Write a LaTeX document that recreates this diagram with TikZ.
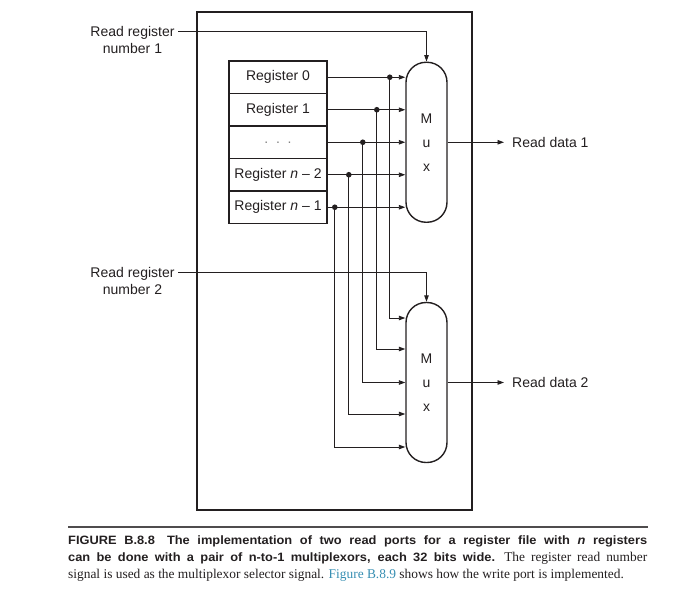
\documentclass[tikz,border=0pt]{standalone}
\usepackage{fontspec}
\setmainfont{Liberation Serif}
\setsansfont{Liberation Sans}
\newfontfamily\capbold[FakeStretch=1.06]{Liberation Sans}
\newfontfamily\capserif[FakeStretch=1.0001]{Liberation Serif}
\usetikzlibrary{arrows.meta}
\definecolor{ink}{RGB}{35,31,32}
\definecolor{linkblue}{RGB}{54,142,178}
\begin{document}
\begin{tikzpicture}[x=1pt,y=-1pt,
  wire/.style={draw=ink,line width=0.9pt},
  arr/.style={-{Triangle[length=6.5pt,width=4.5pt]}},
  reg/.style={draw=ink,line width=1.6pt,minimum width=98pt,minimum height=32.5pt,inner sep=0pt,font=\sffamily\fontsize{14}{16}\selectfont,text=ink},
  mux/.style={draw=ink,line width=1.4pt,rounded corners=20pt,minimum width=41pt,minimum height=160pt,inner sep=0pt,align=center,font=\sffamily\fontsize{14}{24}\selectfont,text=ink},
  lbl/.style={font=\sffamily\fontsize{14}{17}\selectfont,text=ink,inner sep=0pt},
  captxt/.style={inner sep=0pt,anchor=base west,text=ink}]
\path[use as bounding box] (0,0) rectangle (681,590);
% register file box
\draw[ink,line width=2.6pt] (197,12) rectangle (472,510);
% registers
\node[reg] (r0) at (278,77.25) {Register 0};
\node[reg] (r1) at (278,109.75) {Register 1};
\node[reg] (r2) at (278,142.25) {\textcolor{gray}{.\ \ .\ \ .}};
\node[reg] (r3) at (278,174.75) {Register \textit{n} – 2};
\node[reg] (r4) at (278,207.25) {Register \textit{n} – 1};
% muxes
\node[mux] (m1) at (426.5,142.25) {M\\u\\x};
\node[mux] (m2) at (426.5,382.5) {M\\u\\x};
% junctions
\path (r0.east) ++(62,0) coordinate (j0);
\path (r1.east) ++(49,0) coordinate (j1);
\path (r2.east) ++(35,0) coordinate (j2);
\path (r3.east) ++(21,0) coordinate (j3);
\path (r4.east) ++(7,0) coordinate (j4);
\coordinate (b0) at ([yshift=64.5pt]m2.west);
\coordinate (b1) at ([yshift=33.5pt]m2.west);
\coordinate (b2) at (m2.west);
\coordinate (b3) at ([yshift=-31.5pt]m2.west);
\coordinate (b4) at ([yshift=-64.5pt]m2.west);
\foreach \i in {0,...,4}{
  \draw[wire,arr] (r\i.east) -- (r\i.east -| m1.west);
  \draw[wire,arr] (j\i) |- (b\i);
  \fill[ink] (j\i) circle (2.8);
}
% read register numbers
\node[lbl,align=center] (rr1) at (132.5,39.5) {Read register\\number 1};
\node[lbl,align=center] (rr2) at (132.5,280.5) {Read register\\number 2};
\coordinate (s1) at (178,31);
\coordinate (s2) at (178,272);
\draw[wire,arr] (s1) -| (m1.north);
\draw[wire,arr] (s2) -| (m2.north);
% outputs
\node[lbl,anchor=west] (rd1) at (512,142.25) {Read data 1};
\node[lbl,anchor=west] (rd2) at (512,382.5) {Read data 2};
\draw[wire,arr,shorten >=8pt] (m1.east) -- (m1.east -| rd1.west);
\draw[wire,arr,shorten >=8pt] (m2.east) -- (m2.east -| rd2.west);
% caption
\draw[draw=ink!80,line width=1.2pt] (68,527) -- (648,527);
\node[captxt] (c1) at (68,544) {\makebox[579pt][s]{\capbold\bfseries\fontsize{12.1}{14}\selectfont FIGURE B.8.8\quad The implementation of two read ports for a register file with \textit{n} registers}};
\node[captxt] (c2) at (68,561) {\makebox[579pt][s]{{\capbold\bfseries\fontsize{12.1}{14}\selectfont can be done with a pair of n-to-1 multiplexors, each 32 bits wide.} {\capserif\fontsize{13.4}{15}\selectfont The register read number}}};
\node[captxt] (c3) at (68,578) {\capserif\fontsize{13.4}{15}\selectfont signal is used as the multiplexor selector signal. \textcolor{linkblue}{Figure B.8.9} shows how the write port is implemented.};
\end{tikzpicture}
\end{document}
